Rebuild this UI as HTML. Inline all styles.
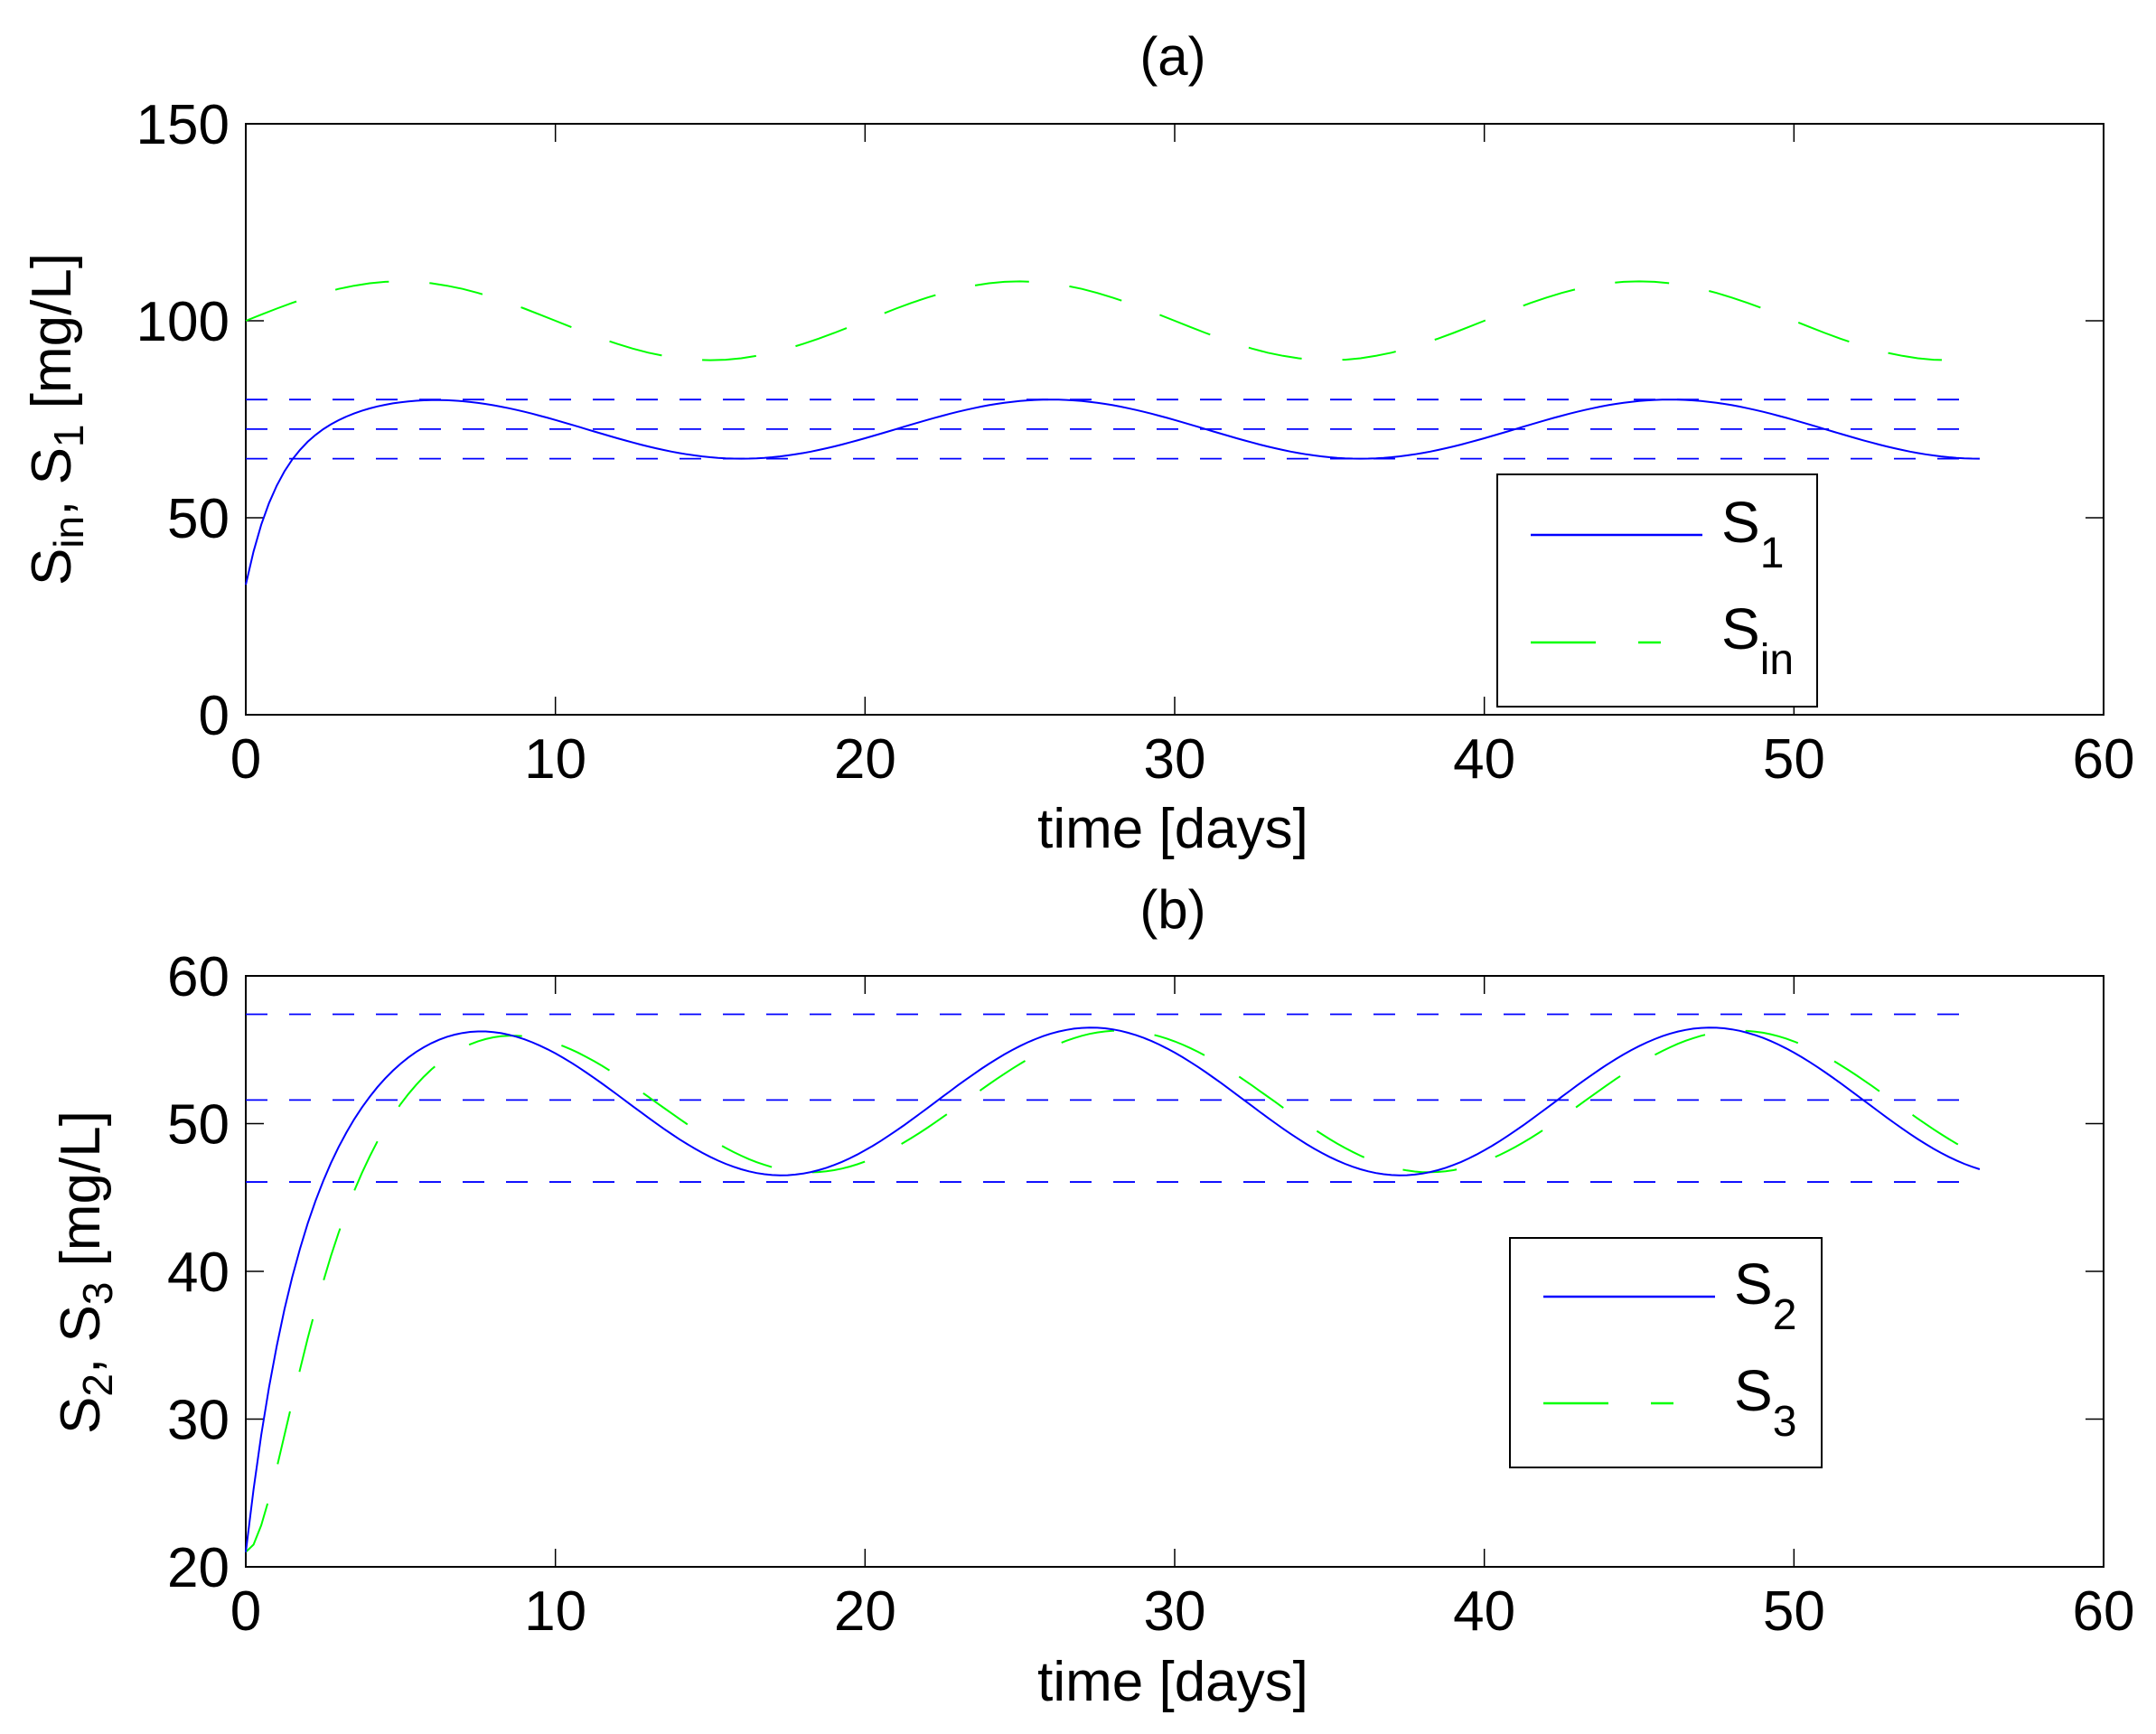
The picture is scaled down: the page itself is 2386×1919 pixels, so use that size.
<!DOCTYPE html>
<html><head><meta charset="utf-8"><style>
html,body{margin:0;padding:0;background:#fff;}
svg{display:block;}
text{font-family:"Liberation Sans",Arial,sans-serif;fill:#000;}
</style></head><body>
<svg id="s" width="2386" height="1919" viewBox="0 0 2386 1919" xmlns="http://www.w3.org/2000/svg">
<rect width="2386" height="1919" fill="#fff"/>
<g id="g"></g>
<text x="1298" y="83" font-size="60" text-anchor="middle">(a)</text>
<text x="1298" y="1027" font-size="60" text-anchor="middle">(b)</text>
<text x="1298" y="938" font-size="62" text-anchor="middle">time [days]</text>
<text x="1298" y="1882" font-size="62" text-anchor="middle">time [days]</text>
<text transform="translate(78,464) rotate(-90)" font-size="62" text-anchor="middle">S<tspan font-size="46" dy="14">in</tspan><tspan dy="-14">, S</tspan><tspan font-size="46" dy="14">1</tspan><tspan dy="-14"> [mg/L]</tspan></text>
<text transform="translate(110,1408) rotate(-90)" font-size="62" text-anchor="middle">S<tspan font-size="46" dy="14">2</tspan><tspan dy="-14">, S</tspan><tspan font-size="46" dy="14">3</tspan><tspan dy="-14"> [mg/L]</tspan></text>
</svg>
<script>
(function(){
var g=document.getElementById('g');var NS='http://www.w3.org/2000/svg';
function el(t,a,txt){var e=document.createElementNS(NS,t);for(var k in a)e.setAttribute(k,a[k]);if(txt!==undefined)e.textContent=txt;g.appendChild(e);return e;}
var L=272,R=2328;
function X(t){return L+(R-L)*t/60;}
function axes(top,bot,ymin,ymax,ystep){
  function Y(v){return bot-(bot-top)*(v-ymin)/(ymax-ymin);}
  el('rect',{x:L,y:top,width:R-L,height:bot-top,fill:'none',stroke:'#000','stroke-width':2});
  for(var t=0;t<=60;t+=10){var x=X(t);
    el('line',{x1:x,y1:bot,x2:x,y2:bot-20,stroke:'#000','stroke-width':1.5});
    el('line',{x1:x,y1:top,x2:x,y2:top+20,stroke:'#000','stroke-width':1.5});
    el('text',{x:x,y:bot+70,'font-size':62,'text-anchor':'middle'},String(t));}
  for(var v=ymin;v<=ymax;v+=ystep){var y=Y(v);
    el('line',{x1:L,y1:y,x2:L+20,y2:y,stroke:'#000','stroke-width':1.5});
    el('line',{x1:R,y1:y,x2:R-20,y2:y,stroke:'#000','stroke-width':1.5});
    el('text',{x:L-18,y:y+22,'font-size':62,'text-anchor':'end'},String(v));}
  return Y;}
function path(pts,Y,col,dash,w){var d='';for(var i=0;i<pts.length;i++){d+=(i?'L':'M')+X(pts[i][0]).toFixed(1)+','+Y(pts[i][1]).toFixed(1);}
  var a={d:d,fill:'none',stroke:col,'stroke-width':w||2};if(dash)a['stroke-dasharray']=dash;el('path',a);}
function hline(v,Y){el('line',{x1:L,y1:Y(v),x2:X(56),y2:Y(v),stroke:'#0000ff','stroke-width':1.8,'stroke-dasharray':'24 24'});}
var Y1=axes(137,791,0,150,50);
[80,72.5,65].forEach(function(v){hline(v,Y1);});
var sin=[],s1=[];
for(var t=0;t<=56.001;t+=0.5){sin.push([t,100+10*Math.sin(2*Math.PI*t/20)]);}
for(var t=0;t<=56.001;t+=0.25){var ss=72.5+7.5*Math.cos(2*Math.PI*(t-6)/20);var s0=72.5+7.5*Math.cos(2*Math.PI*(-6)/20);s1.push([t,ss-(s0-33)*Math.exp(-t/1.05)]);}
path(sin,Y1,'#00ff00','60 45');
path(s1,Y1,'#0000ff');
el('rect',{x:1657,y:525,width:354,height:257,fill:'#fff',stroke:'#000','stroke-width':2});
el('line',{x1:1694,y1:592,x2:1884,y2:592,stroke:'#0000ff','stroke-width':2.5});
el('line',{x1:1694,y1:711,x2:1766,y2:711,stroke:'#00ff00','stroke-width':2.5});
el('line',{x1:1813,y1:711,x2:1838,y2:711,stroke:'#00ff00','stroke-width':2.5});
var t1=el('text',{x:1905,y:600,'font-size':64});t1.innerHTML='S<tspan font-size="48" dy="28">1</tspan>';
var t2=el('text',{x:1905,y:718,'font-size':64});t2.innerHTML='S<tspan font-size="48" dy="28">in</tspan>';
var Y2=axes(1080,1734,20,60,10);
[57.4,51.6,46.05].forEach(function(v){hline(v,Y2);});
var s2=[],s3=[];var S3=21;var dt=0.01;
function S2f(t){var ss=51.5+5*Math.cos(2*Math.PI*(t-7.3)/20);var s0=51.5+5*Math.cos(2*Math.PI*(-7.3)/20);var tau=1.6;return ss-(s0-21)*Math.exp(-t/tau);}
for(var i=0;i<=5600;i++){var t=i*dt;var v2=S2f(t);if(i%25==0){s2.push([t,v2]);s3.push([t,S3]);}S3+=dt*(v2-S3)/0.95;}
path(s3,Y2,'#00ff00','60 45');
path(s2,Y2,'#0000ff');
el('rect',{x:1671,y:1370,width:345,height:254,fill:'#fff',stroke:'#000','stroke-width':2});
el('line',{x1:1708,y1:1435,x2:1898,y2:1435,stroke:'#0000ff','stroke-width':2.5});
el('line',{x1:1708,y1:1553,x2:1780,y2:1553,stroke:'#00ff00','stroke-width':2.5});
el('line',{x1:1827,y1:1553,x2:1852,y2:1553,stroke:'#00ff00','stroke-width':2.5});
var t3=el('text',{x:1919,y:1443,'font-size':64});t3.innerHTML='S<tspan font-size="48" dy="28">2</tspan>';
var t4=el('text',{x:1919,y:1561,'font-size':64});t4.innerHTML='S<tspan font-size="48" dy="28">3</tspan>';
})();
</script>
</body></html>
